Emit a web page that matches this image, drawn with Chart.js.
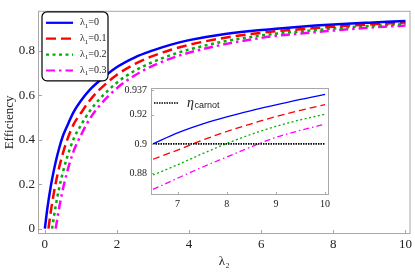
<!DOCTYPE html>
<html>
<head>
<meta charset="utf-8">
<script src="https://cdn.jsdelivr.net/npm/chart.js@4.4.1/dist/chart.umd.min.js"></script>
<style>
html, body { margin: 0; padding: 0; background: #fff; }
#wrap { position: relative; width: 415px; height: 272px; }
#main { position: absolute; left: 0; top: 0; }
#inset { position: absolute; left: 110px; top: 78px; }
</style>
</head>
<body>
<div id="wrap">
  <canvas id="main" width="415" height="272"></canvas>
  <canvas id="inset" width="225" height="135"></canvas>
</div>
<script>
// values
const lambda2 = [0, 0.05, 0.1, 0.15, 0.2, 0.3, 0.4, 0.5, 0.6, 0.8, 1, 1.25, 1.5, 2, 2.5, 3, 3.5, 4, 5, 6, 6.5, 7, 7.5, 8, 8.5, 9, 9.5, 10];
const lambda1 = [0, 0.1, 0.2, 0.3];
const eff0 = [0, 0.067, 0.125, 0.176, 0.222, 0.30, 0.364, 0.417, 0.455, 0.525, 0.575, 0.625, 0.663, 0.727, 0.771, 0.802, 0.828, 0.848, 0.876, 0.894, 0.900, 0.9075, 0.9135, 0.9185, 0.9228, 0.9267, 0.9305, 0.9339];
const eff1 = [null, null, 0, 0.06, 0.114, 0.204, 0.278, 0.339, 0.39, 0.47, 0.52, 0.578, 0.623, 0.692, 0.741, 0.777, 0.805, 0.827, 0.859, 0.881, 0.8895, 0.8958, 0.9025, 0.9085, 0.9138, 0.9187, 0.923, 0.9269];
const eff2 = [null, null, null, null, 0, 0.102, 0.185, 0.254, 0.312, 0.405, 0.465, 0.53, 0.58, 0.657, 0.711, 0.75, 0.781, 0.806, 0.843, 0.869, 0.8787, 0.8857, 0.8932, 0.9003, 0.9066, 0.912, 0.9165, 0.9203];
const eff3 = [null, null, null, null, null, 0, 0.097, 0.177, 0.244, 0.35, 0.42, 0.495, 0.55, 0.632, 0.69, 0.733, 0.766, 0.792, 0.83, 0.858, 0.8688, 0.8765, 0.884, 0.891, 0.898, 0.9045, 0.9093, 0.9135];
const carnotEff = 0.9;
const insetStart = 6.5;

const xTicks = [0, 2, 4, 6, 8, 10];
const yTicks = [0, 0.2, 0.4, 0.6, 0.8];
const insetXTicks = [7, 8, 9, 10];
const insetYTicks = [0.88, 0.9, 0.92, 0.937];

const effs = [eff0, eff1, eff2, eff3];
const colors = ['#0000ff', '#ff0000', '#00b000', '#ff00ff'];
const mainDash = [[], [10, 5], [3, 3.5], [9, 4, 2.5, 4]];
const insetDash = [[], [7, 4], [2, 2.5], [6, 3, 1.5, 3]];

const serif = '"Liberation Serif", "DejaVu Serif", serif';

function points(arr, from) {
  const out = [];
  lambda2.forEach((x, i) => {
    if (arr[i] !== null && x >= from) out.push({x: x, y: arr[i]});
  });
  return out;
}

function setTicks(list) {
  return scale => { scale.ticks = list.map(v => ({value: v})); };
}

function drawLambdaLabel(ctx, x, y, val) {
  ctx.font = '10px ' + serif;
  ctx.fillText('λ', x, y);
  let w = ctx.measureText('λ').width;
  ctx.font = '7px ' + serif;
  ctx.fillText('1', x + w, y + 3);
  w += ctx.measureText('1').width;
  ctx.font = '10px ' + serif;
  ctx.fillText('=' + val, x + w, y);
}

const mainDecor = {
  id: 'mainDecor',
  afterDraw(chart) {
    const {ctx, chartArea: a} = chart;
    const sx = chart.scales.x, sy = chart.scales.y;
    ctx.save();
    ctx.strokeStyle = '#a8a8a8';
    ctx.lineWidth = 1;
    ctx.strokeRect(a.left + 0.5, a.top + 0.5, a.right - a.left - 1, a.bottom - a.top - 1);
    ctx.beginPath();
    sx.ticks.forEach(t => {
      const px = Math.round(sx.getPixelForValue(t.value)) + 0.5;
      ctx.moveTo(px, a.bottom); ctx.lineTo(px, a.bottom - 4);
    });
    sy.ticks.forEach(t => {
      const py = Math.round(sy.getPixelForValue(t.value)) + 0.5;
      ctx.moveTo(a.left, py); ctx.lineTo(a.left + 4, py);
    });
    ctx.stroke();

    // legend box
    const lx = a.left + 4, ly = a.top + 1;
    ctx.beginPath();
    ctx.roundRect(lx, ly, 66, 69, 5);
    ctx.fillStyle = '#fff';
    ctx.fill();
    ctx.strokeStyle = '#000';
    ctx.lineWidth = 1.2;
    ctx.stroke();
    lambda1.forEach((v, i) => {
      const yy = ly + 11 + i * 15.9;
      ctx.beginPath();
      ctx.setLineDash(mainDash[i]);
      ctx.strokeStyle = colors[i];
      ctx.lineWidth = 2.2;
      ctx.moveTo(lx + 4, yy); ctx.lineTo(lx + 31, yy);
      ctx.stroke();
      ctx.setLineDash([]);
      ctx.fillStyle = '#222';
      ctx.textBaseline = 'middle';
      drawLambdaLabel(ctx, lx + 38, yy, String(v));
    });
    ctx.restore();
  }
};

const mainSets = effs.map((arr, i) => ({
  data: points(arr, 0),
  borderColor: colors[i],
  borderWidth: 2.5,
  borderDash: mainDash[i],
  pointRadius: 0,
  fill: false,
  cubicInterpolationMode: 'monotone'
}));

new Chart(document.getElementById('main'), {
  type: 'line',
  data: { datasets: mainSets },
  options: {
    responsive: false,
    animation: false,
    layout: { padding: { top: 3, right: 2, left: 0, bottom: 0 } },
    plugins: { legend: { display: false }, tooltip: { enabled: false } },
    scales: {
      x: {
        type: 'linear', min: -0.19, max: 10.14,
        afterBuildTicks: setTicks(xTicks),
        afterFit: s => { s.height = 38; },
        grid: { display: false, drawTicks: false },
        border: { display: false },
        ticks: { font: { family: serif, size: 13 }, color: '#222', padding: 3, maxRotation: 0, autoSkip: false, callback: v => String(v) },
        title: { display: true, text: 'λ₂', font: { family: serif, size: 13 }, color: '#222', padding: { top: 0, bottom: 3 } }
      },
      y: {
        min: -0.024, max: 0.98,
        afterBuildTicks: setTicks(yTicks),
        afterFit: s => { s.width = 38; },
        grid: { display: false, drawTicks: false },
        border: { display: false },
        ticks: { font: { family: serif, size: 13 }, color: '#222', padding: 3, autoSkip: false, callback: v => String(v) },
        title: { display: true, text: 'Efficiency', font: { family: serif, size: 13 }, color: '#222', padding: { top: 2, bottom: 0 } }
      }
    }
  },
  plugins: [mainDecor]
});

const insetDecor = {
  id: 'insetDecor',
  beforeDraw(chart) {
    const {ctx, chartArea: a} = chart;
    ctx.save();
    ctx.fillStyle = '#fff';
    ctx.fillRect(a.left, a.top, a.right - a.left, a.bottom - a.top);
    ctx.restore();
  },
  afterDraw(chart) {
    const {ctx, chartArea: a} = chart;
    const sx = chart.scales.x, sy = chart.scales.y;
    ctx.save();
    ctx.strokeStyle = '#a8a8a8';
    ctx.lineWidth = 1;
    ctx.strokeRect(a.left + 0.5, a.top + 0.5, a.right - a.left - 1, a.bottom - a.top - 1);
    ctx.beginPath();
    sx.ticks.forEach(t => {
      const px = Math.round(sx.getPixelForValue(t.value)) + 0.5;
      ctx.moveTo(px, a.bottom); ctx.lineTo(px, a.bottom - 3);
    });
    sy.ticks.forEach(t => {
      const py = Math.round(sy.getPixelForValue(t.value)) + 0.5;
      ctx.moveTo(a.left, py); ctx.lineTo(a.left + 3, py);
    });
    ctx.stroke();

    // legend: eta_carnot
    const yy = a.top + 15;
    ctx.beginPath();
    ctx.setLineDash([1.5, 1]);
    ctx.strokeStyle = '#000';
    ctx.lineWidth = 1.6;
    ctx.moveTo(a.left + 3, yy); ctx.lineTo(a.left + 28, yy);
    ctx.stroke();
    ctx.setLineDash([]);
    ctx.fillStyle = '#222';
    ctx.textBaseline = 'middle';
    ctx.font = 'italic 14px ' + serif;
    const tx = a.left + 36;
    ctx.fillText('η', tx, yy);
    const w = ctx.measureText('η').width;
    ctx.font = '9px "Liberation Sans", Arial, sans-serif';
    ctx.fillText('carnot', tx + w + 0.5, yy + 3);
    ctx.restore();
  }
};

const insetSets = [{
  data: [{x: insetStart, y: carnotEff}, {x: lambda2[lambda2.length - 1], y: carnotEff}],
  borderColor: '#000',
  borderWidth: 1.6,
  borderDash: [1.5, 1],
  pointRadius: 0,
  fill: false
}].concat(effs.map((arr, i) => ({
  data: points(arr, insetStart),
  borderColor: colors[i],
  borderWidth: 1.3,
  borderDash: insetDash[i],
  pointRadius: 0,
  fill: false,
  cubicInterpolationMode: 'monotone'
})));

new Chart(document.getElementById('inset'), {
  type: 'line',
  data: { datasets: insetSets },
  options: {
    responsive: false,
    animation: false,
    layout: { padding: { top: 5, right: 6, left: 0, bottom: 0 } },
    plugins: { legend: { display: false }, tooltip: { enabled: false } },
    scales: {
      x: {
        type: 'linear', min: 6.46, max: 10.08,
        afterBuildTicks: setTicks(insetXTicks),
        afterFit: s => { s.height = 18; },
        grid: { display: false, drawTicks: false },
        border: { display: false },
        ticks: { font: { family: serif, size: 10 }, color: '#222', padding: 3, maxRotation: 0, autoSkip: false, callback: v => String(v) }
      },
      y: {
        min: 0.865, max: 0.9383,
        afterBuildTicks: setTicks(insetYTicks),
        afterFit: s => { s.width = 41; },
        grid: { display: false, drawTicks: false },
        border: { display: false },
        ticks: { font: { family: serif, size: 10 }, color: '#222', padding: 4, autoSkip: false, callback: v => String(v) }
      }
    }
  },
  plugins: [insetDecor]
});
</script>
</body>
</html>
